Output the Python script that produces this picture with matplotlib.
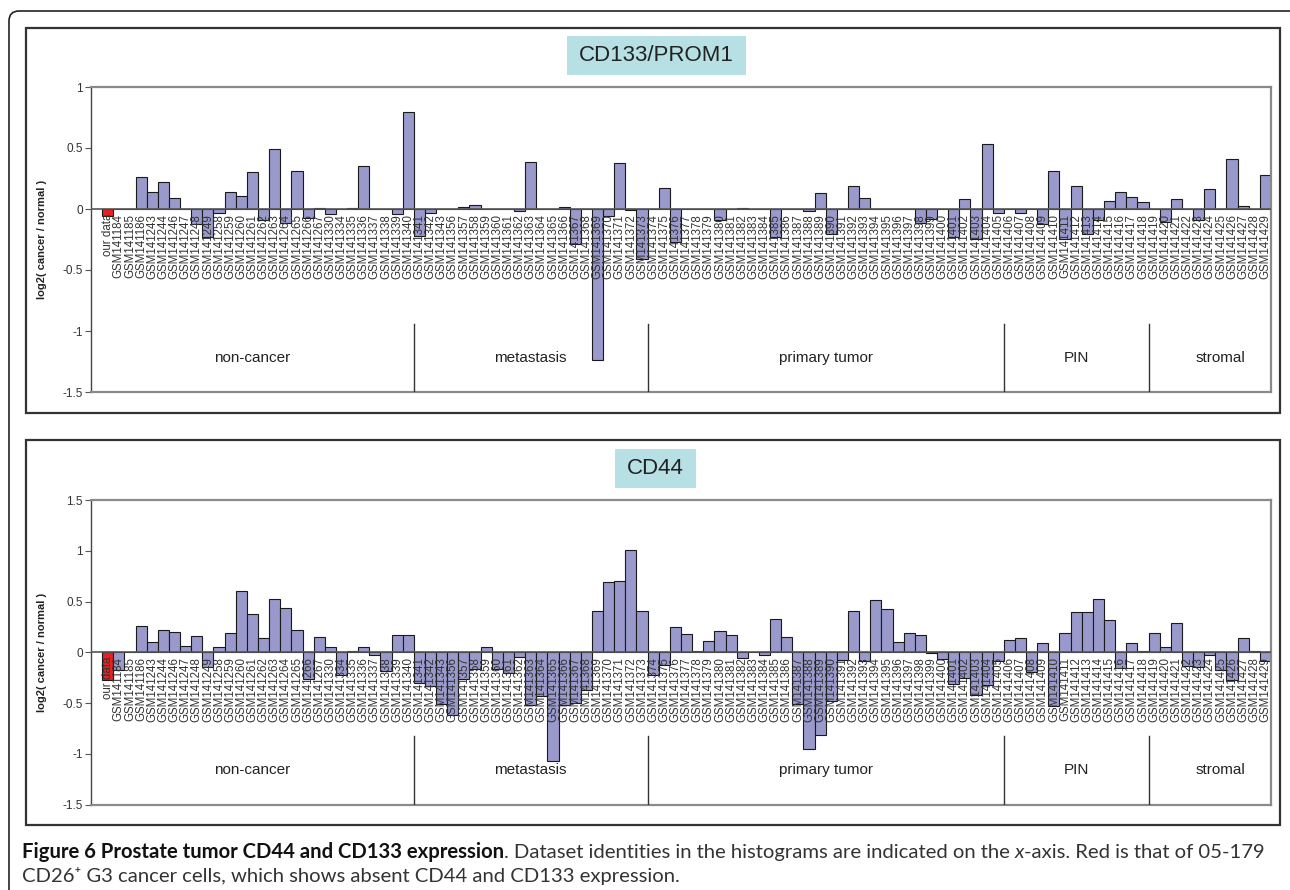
import numpy as np
import matplotlib
matplotlib.use('Agg')
import matplotlib.pyplot as plt
from matplotlib.patches import Rectangle, FancyBboxPatch

### Donnees
our_label = ['our data']
non_cancer = ['GSM141184', 'GSM141185', 'GSM141186', 'GSM141243', 'GSM141244', 'GSM141246', 'GSM141247',
              'GSM141248', 'GSM141249', 'GSM141258', 'GSM141259', 'GSM141260', 'GSM141261', 'GSM141262',
              'GSM141263', 'GSM141264', 'GSM141265', 'GSM141266', 'GSM141267', 'GSM141330', 'GSM141334',
              'GSM141335', 'GSM141336', 'GSM141337', 'GSM141338', 'GSM141339', 'GSM141340']
metastasis = ['GSM141341', 'GSM141342', 'GSM141343', 'GSM141356', 'GSM141357', 'GSM141358', 'GSM141359',
              'GSM141360', 'GSM141361', 'GSM141362', 'GSM141363', 'GSM141364', 'GSM141365', 'GSM141366',
              'GSM141367', 'GSM141368', 'GSM141369', 'GSM141370', 'GSM141371', 'GSM141372', 'GSM141373']
primary = ['GSM141374', 'GSM141375', 'GSM141376', 'GSM141377', 'GSM141378', 'GSM141379', 'GSM141380',
           'GSM141381', 'GSM141382', 'GSM141383', 'GSM141384', 'GSM141385', 'GSM141386', 'GSM141387',
           'GSM141388', 'GSM141389', 'GSM141390', 'GSM141391', 'GSM141392', 'GSM141393', 'GSM141394',
           'GSM141395', 'GSM141396', 'GSM141397', 'GSM141398', 'GSM141399', 'GSM141400', 'GSM141401',
           'GSM141402', 'GSM141403', 'GSM141404', 'GSM141405']
pin = ['GSM141406', 'GSM141407', 'GSM141408', 'GSM141409', 'GSM141410', 'GSM141411', 'GSM141412',
       'GSM141413', 'GSM141414', 'GSM141415', 'GSM141416', 'GSM141417', 'GSM141418']
stromal = ['GSM141419', 'GSM141420', 'GSM141421', 'GSM141422', 'GSM141423', 'GSM141424', 'GSM141425',
           'GSM141426', 'GSM141427', 'GSM141428', 'GSM141429']

group_names = ['non-cancer', 'metastasis', 'primary tumor', 'PIN', 'stromal']

cd133 = [-0.06,
         0, 0, 0.265, 0.142, 0.221, 0.09, 0, -0.126, -0.227, -0.03, 0.142, 0.107, 0.30, -0.09,
         0.49, -0.115, 0.31, -0.077, 0.011, -0.038, 0, 0.005, 0.352, 0, 0, -0.038, 0.795,
         -0.224, -0.03, 0, 0, 0.02, 0.03, 0, 0, 0, -0.015, 0.388, 0, 0, 0.02, -0.29, 0,
         -1.235, -0.06, 0.377, -0.01, -0.407,
         0, 0.175, -0.273, 0, 0, 0, -0.087, 0, 0.01, 0, 0, -0.23, 0, 0, -0.02, 0.134,
         -0.208, 0, 0.188, 0.093, 0, 0, 0, 0, -0.112, -0.08, 0, -0.23, 0.082, -0.243, 0.535, -0.036,
         0, -0.036, 0, -0.126, 0.309, -0.249, 0.189, -0.208, -0.087, 0.066, 0.142, 0.101, 0.057,
         0, -0.107, 0.082, 0, -0.093, 0.167, 0, 0.413, 0.022, 0, 0.281]

cd44 = [-0.269,
        -0.17, 0, 0.256, 0.10, 0.223, 0.20, 0.066, 0.16, -0.141, 0.056, 0.193, 0.60, 0.38, 0.141,
        0.525, 0.433, 0.223, -0.259, 0.148, 0.056, -0.226, 0.013, 0.056, -0.03, -0.184, 0.167, 0.167,
        -0.302, -0.334, -0.508, -0.623, -0.262, -0.164, 0.052, -0.164, -0.203, -0.049, -0.515,
        -0.433, -1.072, -0.515, -0.498, -0.374, 0.41, 0.692, 0.70, 1.007, 0.41,
        -0.22, -0.121, 0.252, 0.18, 0.016, 0.108, 0.213, 0.167, -0.056, 0, -0.03, 0.328, 0.148,
        -0.508, -0.957, -0.813, -0.485, -0.072, 0.41, -0.089, 0.515, 0.423, 0.10, 0.193, 0.17,
        -0.01, -0.069, -0.311, -0.252, -0.426, -0.321, -0.089,
        0.118, 0.141, -0.197, 0.089, -0.531, 0.193, 0.397, 0.397, 0.525, 0.315, -0.154, 0.089, 0.013,
        0.193, 0.056, 0.285, -0.131, -0.144, -0.03, -0.17, -0.275, 0.138, 0.013, -0.089]

labels = our_label + non_cancer + metastasis + primary + pin + stromal
group_sizes = [len(our_label) + len(non_cancer), len(metastasis), len(primary), len(pin), len(stromal)]

### Style
col_bar = '#9999CC'
col_red = '#E82020'
col_txt = '#333333'
police = ['Liberation Sans', 'DejaVu Sans']

fig = plt.figure(figsize=(12.9, 8.9), dpi=100)

### Cadres (en pouces)
fig.add_artist(FancyBboxPatch((0.09, -1), 14, 8.9 - 0.11 + 1, boxstyle='round,pad=0,rounding_size=0.1',
                              transform=fig.dpi_scale_trans, fill=False, ec='#222222', lw=1.2))
fig.add_artist(Rectangle((0.26, 4.77), 12.54, 3.853, transform=fig.dpi_scale_trans,
                         fill=False, ec='#333333', lw=1.6))
fig.add_artist(Rectangle((0.26, 0.65), 12.54, 3.85, transform=fig.dpi_scale_trans,
                         fill=False, ec='#333333', lw=1.6))


def panel(rect, values, ylim, yticks, titre, box, div_top, lab_y):
    ax = fig.add_axes(rect)
    x = np.arange(len(values))
    couleurs = [col_red] + [col_bar] * (len(values) - 1)
    ax.bar(x, values, width=1.0, color=couleurs, edgecolor='#1a1a1a', linewidth=0.8, zorder=2)
    ax.axhline(0, color='#555555', lw=1.2, zorder=3)
    ax.set_xlim(-1.5, len(values) - 0.5)
    ax.set_ylim(*ylim)
    ax.set_yticks(yticks)
    ax.set_yticklabels(['%g' % t for t in yticks], fontsize=8.5, color=col_txt, family=police)
    ax.set_xticks([])
    ax.tick_params(axis='y', length=4, width=0.8, color='#555555', pad=2)
    for s in ['top', 'right', 'bottom']:
        ax.spines[s].set_color('#8a8a8a')
        ax.spines[s].set_linewidth(1.6)
    ax.spines['left'].set_color('#444444')
    ax.spines['left'].set_linewidth(1.0)

    # etiquettes des echantillons
    for i, lab in enumerate(labels):
        ax.annotate(lab, xy=(i, 0), xytext=(0, -3.5), textcoords='offset points',
                    rotation=90, ha='center', va='top', fontsize=8.3, color=col_txt,
                    family=police, zorder=4, annotation_clip=False)

    # separateurs et noms des groupes
    bornes = np.cumsum(group_sizes) - 0.5
    gauche = -1.5
    for k, nom in enumerate(group_names):
        droite = bornes[k]
        ax.text((gauche + droite) / 2 + (1 if k == 4 else 0), lab_y, nom, ha='center', va='center',
                fontsize=11, color='#222222', family=police)
        if k < len(group_names) - 1:
            ax.plot([droite, droite], [div_top, ylim[0]], color='#333333', lw=1.0, zorder=3)
        gauche = droite

    ax.set_ylabel('log2( cancer / normal )', fontsize=8, fontweight='bold', color='#222222', family=police)
    ax.yaxis.set_label_coords(-0.037, 0.5)

    # titre dans un cadre colore
    bx, by, bw, bh = box
    fig.add_artist(Rectangle((bx, by), bw, bh, transform=fig.dpi_scale_trans, fc='#B7E0E4', ec='none'))
    fig.text((bx + bw / 2) / 12.9, (by + bh / 2) / 8.9, titre, ha='center', va='center',
             fontsize=16, color='#222222', family=police)
    return ax


panel([91 / 1290, 1 - 392 / 890, 1180 / 1290, 305 / 890], cd133, (-1.5, 1),
      [-1.5, -1, -0.5, 0, 0.5, 1], 'CD133/PROM1', (5.67, 8.153, 1.79, 0.39), -0.94, -1.22)
panel([91 / 1290, 1 - 804.5 / 890, 1180 / 1290, 304.5 / 890], cd44, (-1.5, 1.5),
      [-1.5, -1, -0.5, 0, 0.5, 1, 1.5], 'CD44', (6.15, 4.02, 0.81, 0.39), -0.83, -1.16)

### Legende de la figure
cap_font = ['Lato', 'DejaVu Sans']
cap_size = 14.6
renderer = fig.canvas.get_renderer()


def morceaux(x0, y0, parts):
    x = x0
    for txt, kw in parts:
        t = fig.text(x, y0, txt, va='baseline', ha='left', fontsize=cap_size, family=cap_font, **kw)
        bb = t.get_window_extent(renderer)
        x = bb.x1 / fig.bbox.width


morceaux(22 / 1290, 1 - 858 / 890,
         [('Figure 6 Prostate tumor CD44 and CD133 expression', dict(fontweight='bold', color='#111111')),
          ('. Dataset identities in the histograms are indicated on the ', dict(color='#333333')),
          ('x', dict(style='italic', color='#333333')),
          ('-axis. Red is that of 05-179', dict(color='#333333'))])
morceaux(22 / 1290, 1 - 882 / 890,
         [('CD26\u207a G3 cancer cells, which shows absent CD44 and CD133 expression.', dict(color='#333333'))])

fig.savefig('out.png', dpi=100)
